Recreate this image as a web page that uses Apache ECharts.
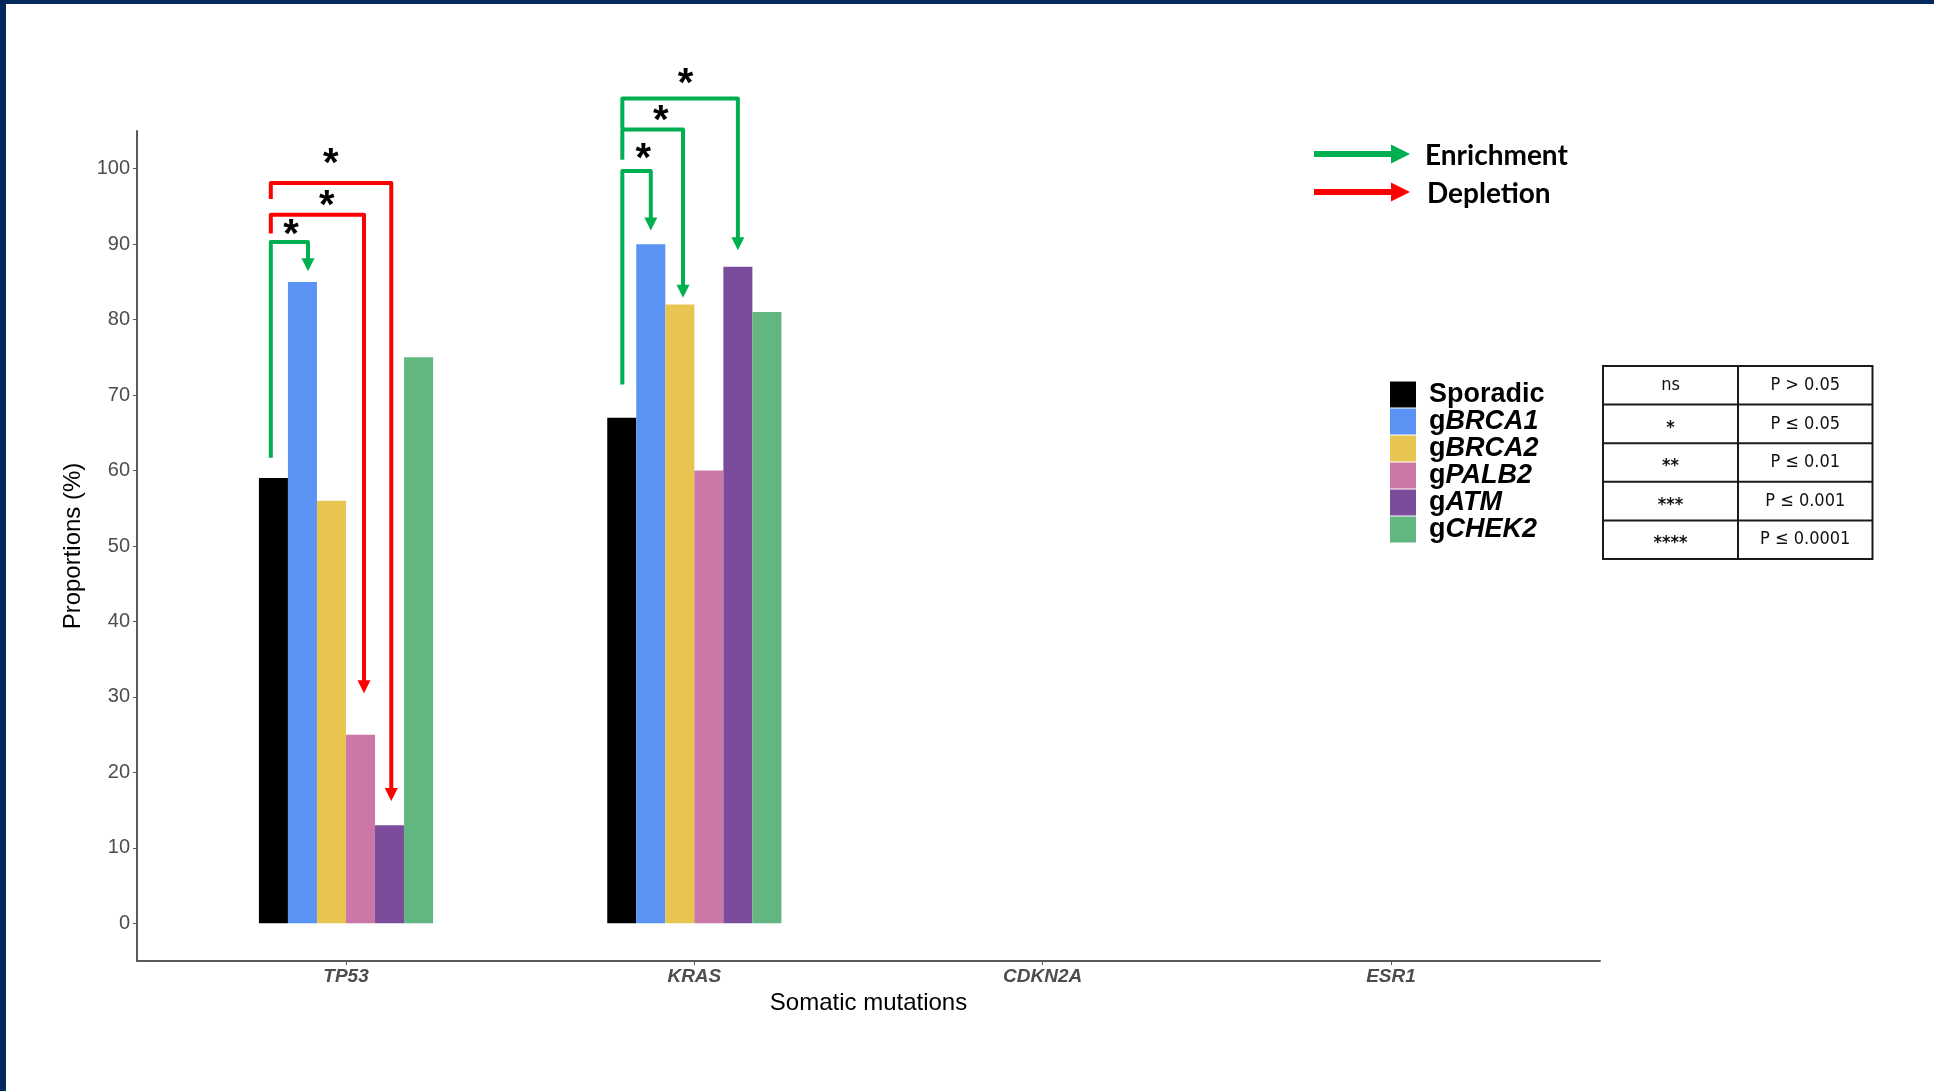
<!DOCTYPE html>
<html>
<head>
<meta charset="utf-8">
<title>Somatic mutations by germline group</title>
<script src="https://cdn.jsdelivr.net/npm/echarts@6/dist/echarts.min.js"></script>
<style>
  html, body { margin: 0; padding: 0; background: #ffffff; }
  #chart { width: 1934px; height: 1091px; }
</style>
</head>
<body>
<div id="chart"></div>
<script>
// ---- data ----
const genes = ['TP53', 'KRAS', 'CDKN2A', 'ESR1'];
const groups = ['Sporadic', 'gBRCA1', 'gBRCA2', 'gPALB2', 'gATM', 'gCHEK2'];
// proportion (%) of tumours carrying each somatic mutation, per germline group
const sporadic = [59, 67, null, null];
const brca1    = [85, 90, null, null];
const brca2    = [56, 82, null, null];
const palb2    = [25, 60, null, null];
const atm      = [13, 87, null, null];
const chek2    = [75, 81, null, null];
const yTicks = [0, 10, 20, 30, 40, 50, 60, 70, 80, 90, 100];

// pairwise comparisons against the sporadic group
// positions along a gene's bar group are given in bar units (0 = left edge of first bar)
const bracketGene     = ['TP53', 'TP53', 'TP53', 'KRAS', 'KRAS', 'KRAS'];
const bracketKind     = ['Enrichment', 'Depletion', 'Depletion', 'Enrichment', 'Enrichment', 'Enrichment'];
const bracketFromBar  = [0.41, 0.41, 0.41, 0.52, 0.52, 0.52];
const bracketToBar    = [1.69, 3.62, 4.56, 1.50, 2.61, 4.50];
const bracketStartY   = [61.7, 91.4, 96.0, 71.4, 101.2, 105.4];
const bracketTopY     = [90.3, 93.9, 98.1, 99.7, 105.2, 109.3];
const bracketTipY     = [86.4, 30.5, 16.2, 91.8, 82.9, 89.2];
const bracketLabel    = ['*', '*', '*', '*', '*', '*'];
const bracketLabelBar = [1.11, 2.34, 2.48, 1.24, 1.84, 2.70];
const bracketLabelY   = [92.0, 95.9, 101.5, 102.1, 107.2, 112.1];

const significanceSymbols = ['ns', '*', '**', '***', '****'];
const significanceRanges  = ['P > 0.05', 'P \u2264 0.05', 'P \u2264 0.01', 'P \u2264 0.001', 'P \u2264 0.0001'];

// ---- styling ----
const groupColors = ['#000000', '#5B93F5', '#E8C550', '#CC78A6', '#7A4C9B', '#62B780'];
const kindColors = { Enrichment: '#00B050', Depletion: '#FF0000' };
const NAVY = '#03285C';
const AXIS_GREY = '#5a5a5a';
const TEXT_GREY = '#4D4D4D';
const SANS = '"Liberation Sans", Arial, sans-serif';

const GROUP_WIDTH = 0.5;                 // width of a gene's bar group, in axis units
const BAR_UNIT = GROUP_WIDTH / groups.length;
const seriesValues = [sporadic, brca1, brca2, palb2, atm, chek2];

function geneX(gene, barPos) {
  const c = genes.indexOf(gene) + 1;
  return c - GROUP_WIDTH / 2 + barPos * BAR_UNIT;
}

const barSeries = groups.map((name, i) => ({
  type: 'bar',
  name: name,
  data: seriesValues[i]
    .map((v, k) => (v == null ? null : [k + 1, v]))
    .filter(d => d !== null),
  barWidth: (100 * GROUP_WIDTH / groups.length) + '%',
  barGap: '0%',
  itemStyle: { color: groupColors[i] },
  emphasis: { disabled: true },
  z: 2
}));

const bracketData = bracketGene.map((g, i) => [
  geneX(g, bracketFromBar[i]),
  geneX(g, bracketToBar[i]),
  bracketStartY[i],
  bracketTopY[i],
  bracketTipY[i],
  geneX(g, bracketLabelBar[i]),
  bracketLabelY[i]
]);

const HEAD_LEN = 13;
const HEAD_HALF = 6.5;
const STAR_SIZE = 40;

const bracketSeries = {
  type: 'custom',
  name: 'comparisons',
  clip: false,
  silent: true,
  z: 5,
  encode: { x: [0, 1, 5], y: [2, 3, 4, 6] },
  data: bracketData,
  renderItem: function (params, api) {
    const i = params.dataIndex;
    const color = kindColors[bracketKind[i]];
    const pStart = api.coord([api.value(0), api.value(2)]);
    const pTopL = api.coord([api.value(0), api.value(3)]);
    const pTopR = api.coord([api.value(1), api.value(3)]);
    const pTip = api.coord([api.value(1), api.value(4)]);
    const pStar = api.coord([api.value(5), api.value(6)]);
    return {
      type: 'group',
      children: [
        {
          type: 'polyline',
          shape: { points: [pStart, pTopL, pTopR, [pTip[0], pTip[1] - HEAD_LEN + 1]] },
          style: { stroke: color, lineWidth: 4, fill: null, lineJoin: 'round', lineCap: 'butt' }
        },
        {
          type: 'polygon',
          shape: { points: [[pTip[0] - HEAD_HALF, pTip[1] - HEAD_LEN], [pTip[0] + HEAD_HALF, pTip[1] - HEAD_LEN], [pTip[0], pTip[1]]] },
          style: { fill: color }
        },
        {
          type: 'text',
          x: pStar[0],
          y: pStar[1] + STAR_SIZE * 0.18,
          style: {
            text: bracketLabel[i],
            font: 'bold ' + STAR_SIZE + 'px ' + SANS,
            fill: '#000000',
            align: 'center',
            verticalAlign: 'middle'
          }
        }
      ]
    };
  }
};

// ---- enrichment / depletion key and significance table ----
function arrowKey(y, label, color, textX) {
  return [
    { type: 'rect', shape: { x: 1314, y: y - 3, width: 80, height: 6 }, style: { fill: color } },
    { type: 'polygon', shape: { points: [[1391, y - 9.5], [1391, y + 9.5], [1410, y]] }, style: { fill: color } },
    { type: 'text', x: textX, y: y + 1.5, style: { text: label, font: 'bold 28px Lato, "Open Sans", sans-serif', fill: '#000', verticalAlign: 'middle' } }
  ];
}

const TABLE_X = 1603, TABLE_Y = 366, TABLE_W = 269.5, ROW_H = 38.6, COL1_W = 135;
const tableElements = [];
tableElements.push({ type: 'rect', shape: { x: TABLE_X, y: TABLE_Y, width: TABLE_W, height: ROW_H * significanceSymbols.length }, style: { fill: '#ffffff', stroke: '#1a1a1a', lineWidth: 2 } });
tableElements.push({ type: 'line', shape: { x1: TABLE_X + COL1_W, y1: TABLE_Y, x2: TABLE_X + COL1_W, y2: TABLE_Y + ROW_H * significanceSymbols.length }, style: { stroke: '#1a1a1a', lineWidth: 2 } });
significanceSymbols.forEach((sym, r) => {
  if (r > 0) {
    tableElements.push({ type: 'line', shape: { x1: TABLE_X, y1: TABLE_Y + r * ROW_H, x2: TABLE_X + TABLE_W, y2: TABLE_Y + r * ROW_H }, style: { stroke: '#1a1a1a', lineWidth: 2 } });
  }
  const cy = TABLE_Y + (r + 0.5) * ROW_H;
  tableElements.push({ type: 'text', x: TABLE_X + COL1_W / 2, y: cy + (sym === 'ns' ? 0 : 4), style: { text: sym, font: (sym === 'ns' ? '' : 'bold ') + '18px "Liberation Sans Narrow", "DejaVu Sans Condensed", sans-serif', fill: '#111', align: 'center', verticalAlign: 'middle' } });
  tableElements.push({ type: 'text', x: TABLE_X + COL1_W + (TABLE_W - COL1_W) / 2, y: cy, style: { text: significanceRanges[r], font: '18px "Liberation Sans Narrow", "DejaVu Sans Condensed", sans-serif', fill: '#111', align: 'center', verticalAlign: 'middle' } });
});

const frame = [
  { type: 'rect', shape: { x: 0, y: 0, width: 1934, height: 4 }, style: { fill: NAVY }, z: 100 },
  { type: 'rect', shape: { x: 0, y: 0, width: 6, height: 1091 }, style: { fill: NAVY }, z: 100 }
];

const chart = echarts.init(document.getElementById('chart'), null, { renderer: 'canvas' });
chart.setOption({
  animation: false,
  backgroundColor: '#ffffff',
  grid: { left: 137, right: 334, top: 131, bottom: 130, outerBoundsMode: 'none' },
  xAxis: {
    type: 'value',
    min: 1 - 0.6,
    max: genes.length + 0.6,
    name: 'Somatic mutations',
    nameLocation: 'middle',
    nameGap: 23,
    nameTextStyle: { fontFamily: SANS, fontSize: 24, color: '#000' },
    splitLine: { show: false },
    axisLine: { show: true, onZero: false, lineStyle: { color: AXIS_GREY, width: 2 } },
    axisTick: { show: true, length: 4, customValues: genes.map((g, k) => k + 1), lineStyle: { color: AXIS_GREY, width: 1 } },
    axisLabel: {
      customValues: genes.map((g, k) => k + 1),
      formatter: v => genes[Math.round(v) - 1] || '',
      fontFamily: SANS, fontSize: 19, fontWeight: 'bold', fontStyle: 'italic', color: TEXT_GREY, margin: 6
    }
  },
  yAxis: {
    type: 'value',
    min: -5,
    max: 105,
    name: 'Proportions (%)',
    nameLocation: 'middle',
    nameGap: 44,
    nameRotate: 90,
    nameTextStyle: { fontFamily: SANS, fontSize: 24, color: '#000' },
    splitLine: { show: false },
    axisLine: { show: true, onZero: false, lineStyle: { color: AXIS_GREY, width: 2 } },
    axisTick: { show: true, length: 4, customValues: yTicks, lineStyle: { color: AXIS_GREY, width: 1 } },
    axisLabel: { customValues: yTicks, fontFamily: SANS, fontSize: 20, color: TEXT_GREY, margin: 7, padding: [6, 0, 0, 0] }
  },
  legend: {
    data: groups,
    orient: 'vertical',
    left: 1390,
    top: 381,
    padding: 0,
    itemWidth: 26,
    itemHeight: 26,
    itemGap: 0,
    icon: 'rect',
    selectedMode: false,
    formatter: name => name.charAt(0) === 'g'
      ? '{n|g}{i|' + name.slice(1) + '}'
      : '{n|' + name + '}',
    textStyle: {
      padding: [0, 0, 0, 8],
      lineHeight: 26.4,
      rich: {
        n: { fontFamily: SANS, fontSize: 27, fontWeight: 'bold', color: '#000', lineHeight: 26.4 },
        i: { fontFamily: SANS, fontSize: 27, fontWeight: 'bold', fontStyle: 'italic', color: '#000', lineHeight: 26.4 }
      }
    }
  },
  graphic: [].concat(
    frame,
    arrowKey(154, 'Enrichment', kindColors.Enrichment, 1425),
    arrowKey(192, 'Depletion', kindColors.Depletion, 1427),
    tableElements
  ),
  series: barSeries.concat([bracketSeries])
});
</script>
</body>
</html>
